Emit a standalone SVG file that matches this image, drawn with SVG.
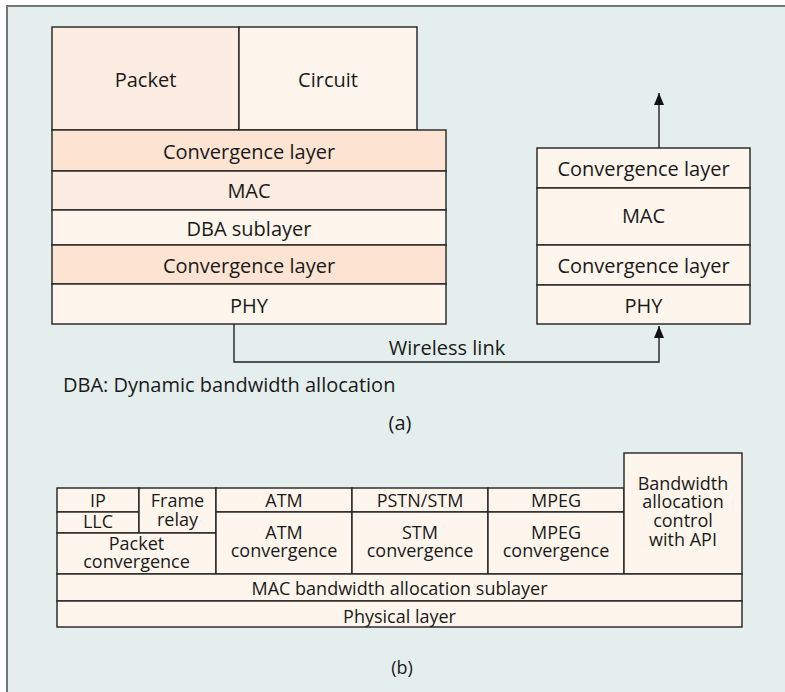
<svg xmlns="http://www.w3.org/2000/svg" width="785" height="692" viewBox="0 0 785 692">
<style>
.bx{stroke:#222;stroke-width:1.4}
.lt{fill:#fef5ec}
.md{fill:#fdece1}
.dk{fill:#fce3d2}
text{font-family:"Open Sans","Liberation Sans",sans-serif;fill:#1a1a1a;text-anchor:middle}
.t20{font-size:20px}
.t18{font-size:18px}
.ln{fill:none;stroke:#222;stroke-width:1.4}
</style>
<defs>
<marker id="ah" markerWidth="12" markerHeight="10" refX="12" refY="5" orient="auto" markerUnits="userSpaceOnUse" viewBox="0 0 12 10">
<path d="M0,0 L12,5 L0,10 Z" fill="#111"/>
</marker>
</defs>
<rect x="7" y="6" width="790" height="700" fill="#e4eeec" stroke="#707878" stroke-width="2"/>

<g id="stack-a-left">
<g id="packet"><rect class="bx md" x="52" y="27" width="187" height="103"/><text class="t20" x="145.5" y="87">Packet</text></g>
<g id="circuit"><rect class="bx lt" x="239" y="27" width="178" height="103"/><text class="t20" x="328" y="87">Circuit</text></g>
<g id="conv-top"><rect class="bx dk" x="52" y="130" width="394" height="41"/><text class="t20" x="249" y="159">Convergence layer</text></g>
<g id="mac"><rect class="bx md" x="52" y="171" width="394" height="39"/><text class="t20" x="249" y="198">MAC</text></g>
<g id="dba"><rect class="bx lt" x="52" y="210" width="394" height="35"/><text class="t20" x="249" y="236">DBA sublayer</text></g>
<g id="conv-bot"><rect class="bx dk" x="52" y="245" width="394" height="39"/><text class="t20" x="249" y="273">Convergence layer</text></g>
<g id="phy"><rect class="bx lt" x="52" y="284" width="394" height="40"/><text class="t20" x="249" y="313">PHY</text></g>
</g>

<g id="stack-a-right">
<g id="r-conv-top"><rect class="bx lt" x="537" y="148" width="213" height="40"/><text class="t20" x="643.5" y="176">Convergence layer</text></g>
<g id="r-mac"><rect class="bx lt" x="537" y="188" width="213" height="57"/><text class="t20" x="643.5" y="223">MAC</text></g>
<g id="r-conv-bot"><rect class="bx lt" x="537" y="245" width="213" height="40"/><text class="t20" x="643.5" y="273">Convergence layer</text></g>
<g id="r-phy"><rect class="bx lt" x="537" y="285" width="213" height="39"/><text class="t20" x="643.5" y="313">PHY</text></g>
</g>

<g id="connectors">
<path class="ln" d="M234,324 V362 H659 V326" marker-end="url(#ah)"/>
<path class="ln" d="M659,148 V93" marker-end="url(#ah)"/>
</g>

<text class="t20" x="447" y="355">Wireless link</text>
<text class="t20" x="63" y="392" style="text-anchor:start">DBA: Dynamic bandwidth allocation</text>
<text class="t20" x="400" y="430">(a)</text>

<g id="stack-b">
<g id="ip"><rect class="bx lt" x="57" y="488" width="82" height="24"/><text class="t18" x="98" y="507">IP</text></g>
<g id="llc"><rect class="bx lt" x="57" y="512" width="82" height="21"/><text class="t18" x="98" y="528">LLC</text></g>
<g id="frame-relay"><rect class="bx lt" x="139" y="488" width="77" height="45"/><text class="t18" x="177.5" y="507">Frame</text><text class="t18" x="177.5" y="526">relay</text></g>
<g id="packet-conv"><rect class="bx lt" x="57" y="533" width="159" height="41"/><text class="t18" x="136.5" y="550">Packet</text><text class="t18" x="136.5" y="568">convergence</text></g>
<g id="atm"><rect class="bx lt" x="216" y="488" width="136" height="24"/><text class="t18" x="284" y="507">ATM</text></g>
<g id="atm-conv"><rect class="bx lt" x="216" y="512" width="136" height="62"/><text class="t18" x="284" y="539">ATM</text><text class="t18" x="284" y="557">convergence</text></g>
<g id="pstn"><rect class="bx lt" x="352" y="488" width="136" height="24"/><text class="t18" x="420" y="507">PSTN/STM</text></g>
<g id="stm-conv"><rect class="bx lt" x="352" y="512" width="136" height="62"/><text class="t18" x="420" y="539">STM</text><text class="t18" x="420" y="557">convergence</text></g>
<g id="mpeg"><rect class="bx lt" x="488" y="488" width="136" height="24"/><text class="t18" x="556" y="507">MPEG</text></g>
<g id="mpeg-conv"><rect class="bx lt" x="488" y="512" width="136" height="62"/><text class="t18" x="556" y="539">MPEG</text><text class="t18" x="556" y="557">convergence</text></g>
<g id="bw-ctrl"><rect class="bx lt" x="624" y="453" width="118" height="121"/><text class="t18" x="683" y="490">Bandwidth</text><text class="t18" x="683" y="508">allocation</text><text class="t18" x="683" y="527">control</text><text class="t18" x="683" y="546">with API</text></g>
<g id="mac-bw"><rect class="bx lt" x="57" y="574" width="685" height="27"/><text class="t18" x="399.5" y="595">MAC bandwidth allocation sublayer</text></g>
<g id="physical"><rect class="bx lt" x="57" y="601" width="685" height="26"/><text class="t18" x="399.5" y="623">Physical layer</text></g>
</g>
<text class="t18" x="402" y="674">(b)</text>
</svg>
